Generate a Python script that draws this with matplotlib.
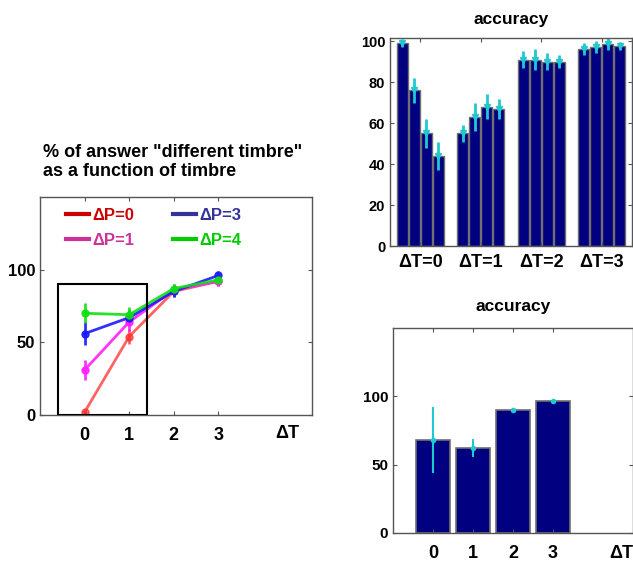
import matplotlib
matplotlib.use('Agg')
import matplotlib.pyplot as plt
import numpy as np
from matplotlib.patches import Rectangle
from matplotlib.lines import Line2D

plt.rcParams['font.family'] = ['Liberation Sans', 'DejaVu Sans']
plt.rcParams['font.weight'] = 'bold'

# --- datos: % de respuestas "timbre distinto" por ΔT, una curva por ΔP
dT = [0, 1, 2, 3]
curvas = ['ΔP=0', 'ΔP=1', 'ΔP=3', 'ΔP=4']
pct_diff = {
    'ΔP=0': [2, 54, 85, 92],
    'ΔP=1': [31, 64, 86, 92],
    'ΔP=3': [56, 67, 85, 96],
    'ΔP=4': [70, 69, 87, 93],
}
err_diff = {
    'ΔP=0': [1, 5, 4, 3],
    'ΔP=1': [7, 6, 4, 3],
    'ΔP=3': [8, 5, 4, 3],
    'ΔP=4': [7, 5, 3, 3],
}
col_linea = {'ΔP=0': '#ff3030', 'ΔP=1': '#ff20ff', 'ΔP=3': '#1a1aff', 'ΔP=4': '#10e010'}
col_leyenda = {'ΔP=0': '#cc0000', 'ΔP=1': '#cc3399', 'ΔP=3': '#333399', 'ΔP=4': '#00cc00'}

# --- precision por grupo ΔT (4 barras por grupo, una por ΔP)
grupos = ['ΔT=0', 'ΔT=1', 'ΔT=2', 'ΔT=3']
acc = np.array([
    [99, 76, 55, 44],
    [55, 63, 68, 67],
    [91, 91, 90, 90],
    [96, 97, 98.5, 97.7],
])
acc_err = np.array([
    [2, 6, 7, 7],
    [4, 7, 6, 5],
    [4, 5, 4, 3],
    [3, 3, 3, 2],
])

# --- precision media por ΔT
acc_media = [68, 62, 90, 96.5]
acc_media_err = [24, 6.5, 1.5, 1]

barra = '#000080'
borde = '#707070'
cian = '#20c8d0'
marco = '#555555'


def estilo(ax, ysize=11):
    for s in ax.spines.values():
        s.set_color(marco)
        s.set_linewidth(1)
    ax.tick_params(direction='in', length=3, color=marco, top=True, right=True,
                   labelsize=ysize)
    for t in ax.get_xticklabels() + ax.get_yticklabels():
        t.set_fontweight('bold')


fig = plt.figure(figsize=(6.33, 5.63), dpi=100)

# 1. Curvas
ax1 = fig.add_axes([0.0632, 0.2629, 0.4297, 0.3872])
for c in curvas:
    ax1.errorbar(dT, pct_diff[c], yerr=err_diff[c], color=col_linea[c], lw=2,
                 marker='o', ms=5, elinewidth=2, capsize=0,
                 alpha=0.75 if c == 'ΔP=0' else 0.9)
ax1.add_patch(Rectangle((-0.6, 0), 2.0, 90, fill=False, ec='black', lw=1.5, zorder=5))
ax1.set_xlim(-1, 5.1)
ax1.set_ylim(0, 150)
ax1.set_xticks(dT)
ax1.set_yticks([0, 50, 100])
estilo(ax1, 12)
ax1.tick_params(axis='x', pad=9, labelsize=13)
ax1.text(4.55, -7, 'ΔT', ha='center', va='top', fontsize=13, fontweight='bold')

proxies = [Line2D([], [], color=col_leyenda[c], lw=3) for c in curvas]
ley = ax1.legend(proxies, curvas, ncol=2, loc='upper left', frameon=False,
                 bbox_to_anchor=(0.04, 1.02), handlelength=1.4, handletextpad=0.2,
                 columnspacing=2.3, labelspacing=0.6,
                 prop={'size': 12, 'weight': 'bold'})
for txt, c in zip(ley.get_texts(), curvas):
    txt.set_color(col_leyenda[c])

fig.text(0.068, 0.712, '% of answer "different timbre"\nas a function of timbre',
         ha='left', va='center', fontsize=13, fontweight='bold', linespacing=1.15)

# 2. Barras agrupadas
ax2 = fig.add_axes([0.6161, 0.5630, 0.3823, 0.3694])
x_g = np.arange(1, len(grupos) + 1)
desp = [-0.3, -0.1, 0.1, 0.3]
for j in range(4):
    xs = x_g + desp[j]
    ax2.bar(xs, acc[:, j], width=0.18, color=barra, edgecolor=borde, lw=1)
    ax2.errorbar(xs, acc[:, j], yerr=acc_err[:, j], fmt='v', color=cian, ms=4,
                 elinewidth=2, capsize=0)
ax2.set_xlim(0.5, 4.5)
ax2.set_ylim(0, 101.5)
ax2.set_xticks(x_g)
ax2.set_xticklabels(grupos)
ax2.set_yticks([0, 20, 40, 60, 80, 100])
estilo(ax2, 10.5)
ax2.tick_params(axis='x', pad=6, labelsize=13)
ax2.set_title('accuracy', fontsize=12.5, fontweight='bold', pad=10)

# 3. Precision media
ax3 = fig.add_axes([0.6209, 0.0533, 0.379, 0.3641])
ax3.bar(dT, acc_media, width=0.85, color=barra, edgecolor=borde, lw=1.2)
ax3.errorbar(dT, acc_media, yerr=acc_media_err, fmt='o', color=cian, ms=3,
             elinewidth=1.5, capsize=0)
ax3.set_xlim(-1, 5)
ax3.set_ylim(0, 150)
ax3.set_xticks(dT)
ax3.set_yticks([0, 50, 100])
estilo(ax3, 11)
ax3.tick_params(axis='x', pad=9, labelsize=13)
ax3.text(4.7, -9, 'ΔT', ha='center', va='top', fontsize=13, fontweight='bold')
ax3.set_title('accuracy', fontsize=12.5, fontweight='bold', pad=12)

fig.savefig('out.png', dpi=100)
